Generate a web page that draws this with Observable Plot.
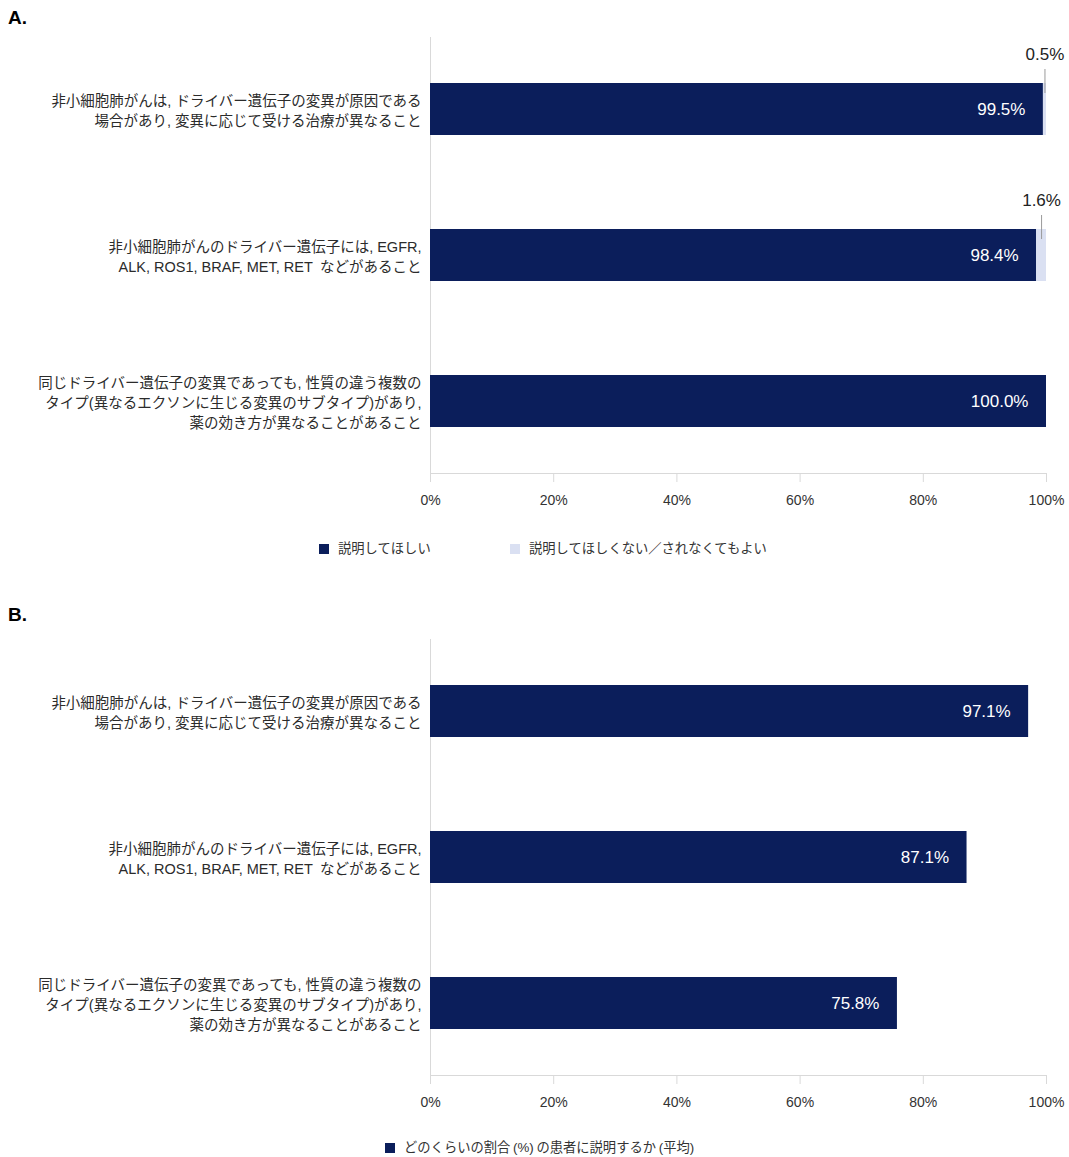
<!DOCTYPE html>
<html><head><meta charset="utf-8">
<script src="https://cdn.jsdelivr.net/npm/d3@7"></script>
<script src="https://cdn.jsdelivr.net/npm/@observablehq/plot@0.6"></script>
<style>
body{margin:0;background:#fff;font-family:"Liberation Sans",Arial,"Noto Sans CJK JP",sans-serif;color:#333;}
#root{position:relative;width:1069px;height:1157px;overflow:hidden;}
.title{position:absolute;left:8px;font-weight:bold;font-size:19px;line-height:20px;color:#000;}
.chart{position:absolute;left:0;}
.leg{position:absolute;font-size:13.3px;line-height:20px;display:flex;align-items:center;white-space:pre;color:#333;}
.sw{display:inline-block;width:10px;height:10px;margin-right:9px;}
</style></head>
<body><div id="root"></div>
<script>
// ---- data ----
const categories = [
  "非小細胞肺がんは, ドライバー遺伝子の変異が原因である\n場合があり, 変異に応じて受ける治療が異なること",
  "非小細胞肺がんのドライバー遺伝子には, EGFR,\nALK, ROS1, BRAF, MET, RET\u2002などがあること",
  "同じドライバー遺伝子の変異であっても, 性質の違う複数の\nタイプ(異なるエクソンに生じる変異のサブタイプ)があり,\n薬の効き方が異なることがあること"
];
const seriesA = ["説明してほしい", "説明してほしくない／されなくてもよい"];
const wantA = [99.5, 98.4, 100.0];
const notWantA = [0.5, 1.6, 0.0];
const seriesB = ["どのくらいの割合\u2009(%)\u2009の患者に説明するか\u2009(平均)"];
const meanB = [97.1, 87.1, 75.8];
const xTicks = [0, 20, 40, 60, 80, 100];

const navy = "#0b1e5b";
const light = "#dae0f2";
const gridGray = "#d9d9d9";
const font = '"Liberation Sans", Arial, "Noto Sans CJK JP", sans-serif';

const root = document.getElementById("root");

function addTitle(txt, top) {
  const d = document.createElement("div");
  d.className = "title"; d.textContent = txt; d.style.top = top + "px";
  root.appendChild(d);
}
function addLegend(items, top) {
  for (const it of items) {
    const d = document.createElement("div");
    d.className = "leg"; d.style.top = top + "px"; d.style.left = it.left + "px";
    const s = document.createElement("span"); s.className = "sw"; s.style.background = it.color;
    d.appendChild(s);
    d.appendChild(document.createTextNode(it.label));
    root.appendChild(d);
  }
}

function panel(data, seriesNames, colors, extraMarks, top) {
  const chart = Plot.plot({
    width: 1069, height: 490,
    marginLeft: 430, marginRight: 23, marginTop: 7, marginBottom: 47,
    style: {fontFamily: font, fontSize: "14px", color: "#333", background: "transparent", overflow: "visible"},
    x: {domain: [0, 100], label: null},
    y: {domain: categories, paddingInner: 0.644, paddingOuter: 0.315, align: 0.5, label: null},
    color: {domain: seriesNames, range: colors},
    marks: [
      Plot.ruleX([0], {stroke: gridGray}),
      Plot.barX(data, Plot.stackX({x: "value", y: "cat", fill: "series", order: seriesNames})),
      Plot.frame({anchor: "bottom", stroke: gridGray}),
      Plot.axisX({ticks: xTicks, tickFormat: d => d + "%", tickSize: 9, tickPadding: 13, stroke: gridGray, fill: "#333", fontSize: 14, label: null}),
      Plot.axisY({tickSize: 0, tickPadding: 9, lineHeight: 1.38, fontSize: 14.5, fill: "#2b2b2b", label: null}),
      Plot.text(data.filter(d => d.series === seriesNames[0]), {
        x: "value", y: "cat", text: d => d.value.toFixed(1) + "%",
        textAnchor: "end", dx: -18, fill: "white", fontSize: 17
      }),
      ...extraMarks
    ]
  });
  chart.classList.add("chart");
  chart.style.top = top + "px";
  root.appendChild(chart);
}

// Panel A
const dataA = categories.flatMap((c, i) => [
  {cat: c, series: seriesA[0], value: wantA[i]},
  {cat: c, series: seriesA[1], value: notWantA[i]}
]);
const smallA = categories
  .map((c, i) => ({cat: c, value: notWantA[i], mid: wantA[i] + notWantA[i] / 2}))
  .filter(d => d.value > 0);

addTitle("A.", 8);
panel(dataA, seriesA, [navy, light], [
  Plot.tickX(smallA, {x: "mid", y: "cat", insetTop: 28, dy: -42, stroke: "#9a9a9a", strokeWidth: 1}),
  Plot.text(smallA, {x: "mid", y: "cat", text: d => d.value.toFixed(1) + "%", dy: -55, fill: "#222", fontSize: 17})
], 30);
addLegend([
  {label: seriesA[0], color: navy, left: 319},
  {label: seriesA[1], color: light, left: 510}
], 539);

// Panel B
const dataB = categories.map((c, i) => ({cat: c, series: seriesB[0], value: meanB[i]}));
addTitle("B.", 605);
panel(dataB, seriesB, [navy], [], 632);
addLegend([{label: seriesB[0], color: navy, left: 385}], 1138);
</script>
</body></html>
